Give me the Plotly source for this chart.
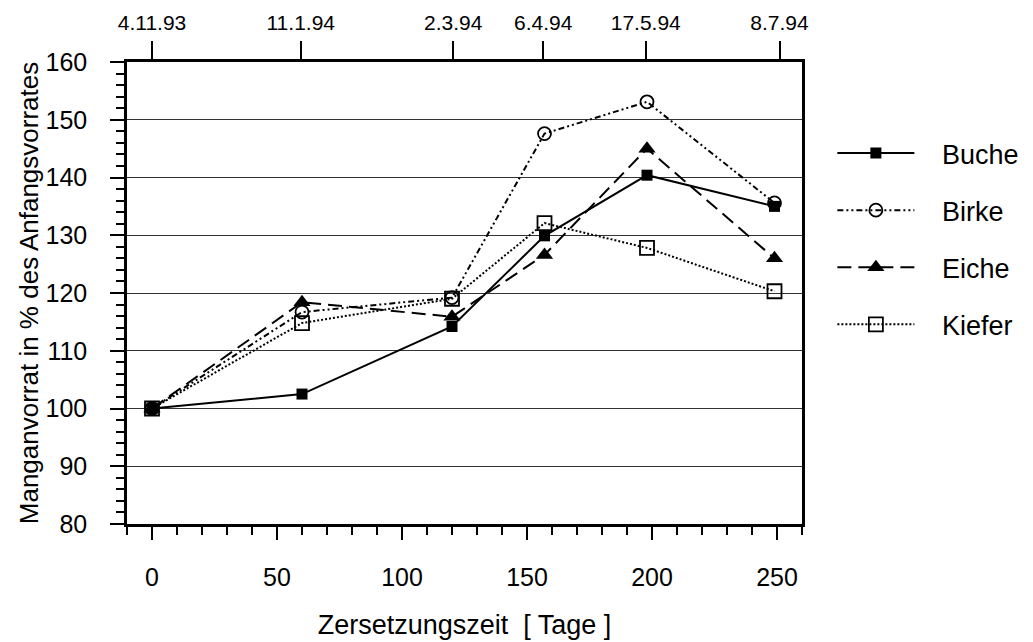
import plotly.graph_objects as go

days = [0, 60, 120, 157, 198, 249]
buche = [100, 102.5, 114.2, 129.9, 140.4, 135.0]
birke = [100, 116.7, 119.2, 147.6, 153.1, 135.6]
eiche = [100, 118.4, 115.9, 126.6, 145.0, 126.0]
kiefer = [100, 114.8, 119.0, 132.1, 127.8, 120.3]

date_pos = [0, 59.5, 120.5, 156.5, 197.5, 251]
date_labels = ["4.11.93", "11.1.94", "2.3.94", "6.4.94", "17.5.94", "8.7.94"]

FONT = "Liberation Sans, Arial, sans-serif"
NB = "\u00a0\u00a0\u00a0"

fig = go.Figure()
series = [
    ("Buche", buche, "solid", dict(symbol="square", size=11, color="black")),
    ("Birke", birke, "6px,3px,2px,3px,2px,3px", dict(symbol="circle-open", size=13, color="black", line=dict(width=1.8))),
    ("Eiche", eiche, "14px,7px", dict(symbol="triangle-up", size=15, color="black")),
    ("Kiefer", kiefer, "2px,2px", dict(symbol="square-open", size=14, color="black", line=dict(width=1.8))),
]
for i, (name, vals, dash, mk) in enumerate(series):
    fig.add_trace(go.Scatter(
        x=days, y=vals, name=NB + name, mode="lines+markers",
        line=dict(color="black", width=2, dash=dash),
        marker=mk, legendgroup=name,
    ))

# invisible trace on the top axis
fig.add_trace(go.Scatter(x=date_pos, y=[None]*len(date_pos), xaxis="x2",
                         showlegend=False, hoverinfo="skip", mode="markers"))

fig.update_layout(
    width=1033, height=642,
    margin=dict(l=127, r=231, t=62, b=118, autoexpand=False),
    paper_bgcolor="white", plot_bgcolor="white",
    font=dict(family=FONT, color="black"),
    xaxis=dict(
        range=[-10, 260], tickmode="linear", tick0=0, dtick=50,
        ticks="outside", ticklen=13, tickwidth=2, tickcolor="black",
        showline=True, linewidth=2.5, linecolor="black", mirror=True,
        showgrid=False, zeroline=False, automargin=False,
        tickfont=dict(size=25), ticklabelstandoff=16,
        minor=dict(dtick=10, tick0=0, ticks="outside", ticklen=8, tickwidth=2, tickcolor="black", showgrid=False),
        title=dict(text="Zersetzungszeit  [ Tage ]", font=dict(size=27), standoff=26),
    ),
    xaxis2=dict(
        overlaying="x", side="top", range=[-10, 260], automargin=False,
        tickmode="array", tickvals=date_pos, ticktext=date_labels,
        ticks="outside", ticklen=20, tickwidth=1.5, tickcolor="black",
        showline=False, showgrid=False, zeroline=False,
        tickfont=dict(size=21), ticklabelstandoff=3,
    ),
    yaxis=dict(
        range=[80, 160], tickmode="linear", tick0=80, dtick=10,
        ticks="outside", ticklen=14, tickwidth=2, tickcolor="black",
        showline=True, linewidth=2.5, linecolor="black", mirror=True,
        showgrid=True, gridcolor="#333333", gridwidth=1, zeroline=False, automargin=False,
        tickfont=dict(size=25), ticklabelstandoff=18,
        minor=dict(dtick=2, tick0=80, ticks="outside", ticklen=8, tickwidth=1.5, tickcolor="black", showgrid=False),
        title=dict(text="Manganvorrat in % des Anfangsvorrates", font=dict(size=26), standoff=0),
    ),
    legend=dict(
        x=1.045, y=0.855, xanchor="left", yanchor="top",
        font=dict(size=27), itemwidth=77, tracegroupgap=19,
        traceorder="grouped", bgcolor="rgba(0,0,0,0)",
    ),
    showlegend=True,
)

fig.write_html("out.html")
